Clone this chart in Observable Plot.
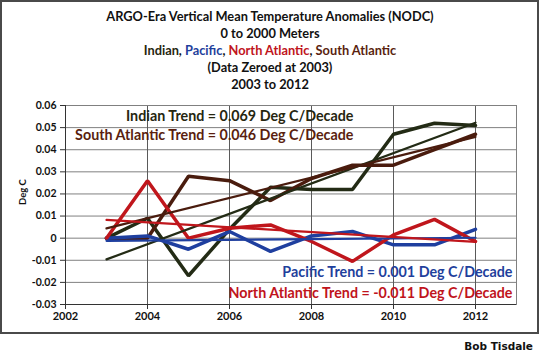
<!DOCTYPE html>
<html><head><meta charset="utf-8">
<script src="https://cdn.jsdelivr.net/npm/d3@7"></script>
<script src="https://cdn.jsdelivr.net/npm/@observablehq/plot@0.6"></script>
<style>
html,body{margin:0;padding:0;background:#fff;}
#wrap{position:relative;width:540px;height:357px;overflow:hidden;font-family:Lato,sans-serif;background:#fff;}
#chart{position:absolute;left:0;top:0;}
#chart svg text{font-weight:bold;}
#border{position:absolute;left:0;top:0;width:535px;height:330px;border:2px solid #4a4a4a;pointer-events:none;}
#title{position:absolute;left:0;top:8px;width:540px;text-align:center;font-weight:bold;font-size:12.8px;line-height:17px;color:#111;}
#credit{position:absolute;right:7px;top:340px;font-family:"DejaVu Sans",sans-serif;font-weight:bold;font-size:10.5px;color:#111;}
</style></head><body>
<div id="wrap">
<div id="chart"></div>
<div id="border"></div>
<div id="title"></div>
<div id="credit"></div>
</div>
<script>
// ---- data ----
const titleLines = ["ARGO-Era Vertical Mean Temperature Anomalies (NODC)", "0 to 2000 Meters", null, "(Data Zeroed at 2003)", "2003 to 2012"];
const oceans = ["Indian", "Pacific", "North Atlantic", "South Atlantic"];
const lineColors = ["#232b15", "#1f3f9f", "#c0161c", "#4a1c0e"];
const textColors = ["#262610", "#1f3f9c", "#c0141c", "#5a1f0f"];
const years = [2003, 2004, 2005, 2006, 2007, 2008, 2009, 2010, 2011, 2012];
const indian = [0, 0.009, -0.017, 0.004, 0.023, 0.022, 0.022, 0.047, 0.052, 0.051];
const pacific = [0, 0.001, -0.005, 0.003, -0.006, 0.001, 0.003, -0.003, -0.003, 0.004];
const northAtlantic = [0, 0.026, 0, 0.0045, 0.006, -0.0015, -0.0105, 0.0015, 0.0085, -0.0015];
const southAtlantic = [0, 0, 0.028, 0.026, 0.017, 0.027, 0.033, 0.033, 0.040, 0.047];
const trendLabels = ["Indian Trend = 0.069 Deg C/Decade", "Pacific Trend = 0.001 Deg C/Decade", "North Atlantic Trend = -0.011 Deg C/Decade", "South Atlantic Trend = 0.046 Deg C/Decade"];
const xTicks = [2002, 2004, 2006, 2008, 2010, 2012];
const yTicks = [-0.03, -0.02, -0.01, 0, 0.01, 0.02, 0.03, 0.04, 0.05, 0.06];
const xDomain = [2002, 2013];
const yDomain = [-0.03, 0.06];
const yLabel = "Deg C";
const credit = "Bob Tisdale";

// ---- title ----
const titleEl = document.getElementById("title");
titleLines.forEach((line, i) => {
  const d = document.createElement("div");
  if (line === null) {
    oceans.forEach((o, j) => {
      const s = document.createElement("span");
      s.textContent = o; s.style.color = textColors[j];
      d.appendChild(s);
      if (j < oceans.length - 1) d.appendChild(document.createTextNode(", "));
    });
  } else d.textContent = line;
  titleEl.appendChild(d);
});
document.getElementById("credit").textContent = credit;

// ---- table ----
const series = [indian, pacific, northAtlantic, southAtlantic];
const table = [];
series.forEach((vals, i) => vals.forEach((v, k) => table.push({ocean: oceans[i], year: years[k], value: v})));
const drawOrder = ["Indian", "South Atlantic", "Pacific", "North Atlantic"];
const ordered = drawOrder.flatMap(o => table.filter(d => d.ocean === o));

const fmtY = d => (Math.abs(d) < 1e-9 ? "0" : d.toFixed(2));

const chart = Plot.plot({
  width: 540, height: 357,
  marginLeft: 65, marginRight: 24, marginTop: 105, marginBottom: 53,
  style: {fontFamily: "Lato, sans-serif", background: "transparent", color: "#111"},
  x: {domain: xDomain},
  y: {domain: yDomain},
  color: {domain: oceans, range: lineColors},
  marks: [
    Plot.gridY(yTicks, {stroke: "#808080", strokeOpacity: 1}),
    Plot.gridX(xTicks, {stroke: "#5a5a5a", strokeOpacity: 1}),
    Plot.frame({stroke: "#808080"}),
    Plot.ruleX([xDomain[0]], {stroke: "#333"}),
    Plot.ruleY([yDomain[0]], {stroke: "#333"}),
    Plot.axisY(yTicks, {tickFormat: fmtY, tickSize: 5, tickPadding: 4, fontSize: 10.5, label: null, stroke: "#333"}),
    Plot.axisX(xTicks, {tickFormat: d => String(d), tickSize: 5, tickPadding: 3, fontSize: 11, label: null, stroke: "#333"}),
    Plot.text([yLabel], {frameAnchor: "left", rotate: -90, dx: -43, fontSize: 9.5}),
    Plot.lineY(ordered, {x: "year", y: "value", z: "ocean", stroke: "ocean", strokeWidth: 3.5, strokeLinejoin: "miter"}),
    Plot.linearRegressionY(ordered, {x: "year", y: "value", z: "ocean", stroke: "ocean", ci: 0, strokeWidth: 2.2}),
    Plot.text([trendLabels[0]], {frameAnchor: "top-right", textAnchor: "end", lineAnchor: "middle", dx: -163, dy: 11, fontSize: 14.3, fill: textColors[0]}),
    Plot.text([trendLabels[3]], {frameAnchor: "top-right", textAnchor: "end", lineAnchor: "middle", dx: -163, dy: 30, fontSize: 14.3, fill: textColors[3]}),
    Plot.text([trendLabels[1]], {frameAnchor: "bottom-right", textAnchor: "end", lineAnchor: "middle", dx: -4, dy: -32, fontSize: 14.3, fill: textColors[1]}),
    Plot.text([trendLabels[2]], {frameAnchor: "bottom-right", textAnchor: "end", lineAnchor: "middle", dx: -4, dy: -11, fontSize: 14.3, fill: textColors[2]})
  ]
});
document.getElementById("chart").appendChild(chart);
</script>
</body></html>
